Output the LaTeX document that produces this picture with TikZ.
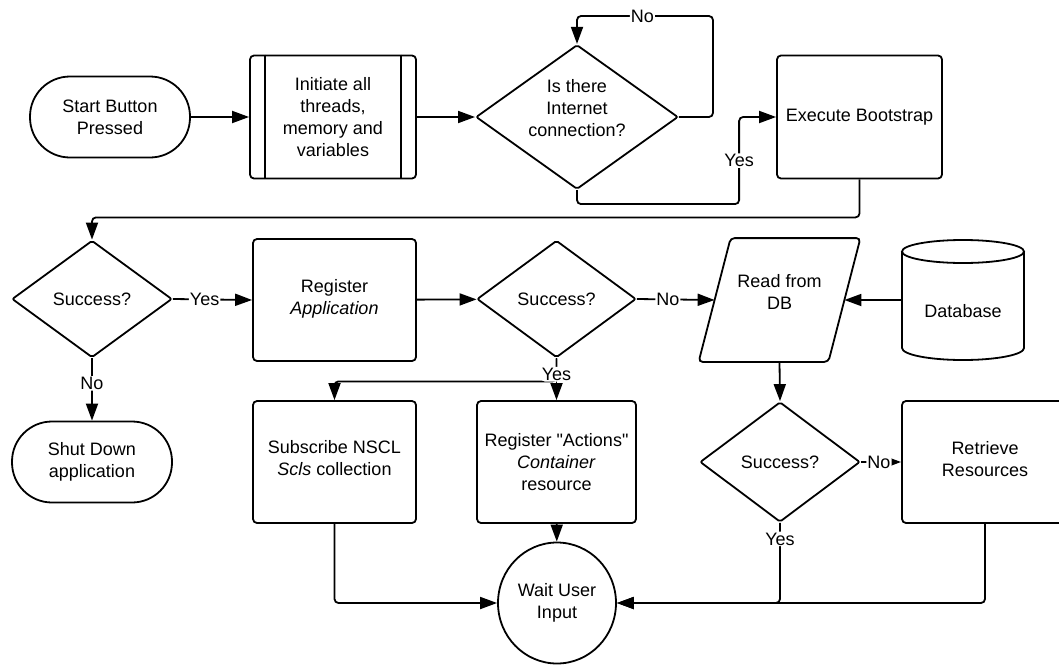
\documentclass[tikz,border=0pt]{standalone}
\usepackage{fontspec}
\newfontfamily\lsans{Liberation Sans}
\usetikzlibrary{arrows.meta,shapes.geometric}

\begin{document}
\begin{tikzpicture}[x=1pt,y=-1pt,line width=1.8pt,
	>={Triangle[length=17pt,width=12pt]},
	font=\lsans\fontsize{18}{22}\selectfont,
	box/.style={draw,rounded corners=4pt,minimum width=163pt,minimum height=122pt,align=center,inner sep=0pt},
	term/.style={draw,rounded corners=40pt,minimum width=160pt,minimum height=81pt,align=center},
	dec/.style={draw,diamond,aspect=1.4,inner sep=0pt,align=center,rounded corners=2pt},
	lbl/.style={fill=white,inner sep=1pt},
	conn/.style={->,rounded corners=4pt}]
		\useasboundingbox (0,0) rectangle (1059,664);
		% first row
		\node[term] (start) at (110,117) {Start Button\\Pressed};
		\node[box,minimum width=166pt,minimum height=123pt] (init) at (333,117) {Initiate all\\threads,\\memory and\\variables};
		\node[dec,minimum width=199pt,minimum height=138pt] (inet) at (577,117) {Is there\\Internet\\connection?\\[-4pt]};
		\node[box,minimum width=165pt,minimum height=123pt] (boot) at (859.5,117) {Execute Bootstrap};
		\draw ([xshift=16pt]init.north west) -- ([xshift=16pt]init.south west);
		\draw ([xshift=-16pt]init.north east) -- ([xshift=-16pt]init.south east);
		% second row
		\node[dec,minimum width=160pt,minimum height=117pt] (ok1) at (92,299) {Success?};
		\node[box] (regapp) at (334.5,300) {Register\\\textit{Application}\\[-16pt]};
		\node[dec,minimum width=159pt,minimum height=117pt] (ok2) at (556.5,299) {Success?};
		\node[minimum width=128pt,minimum height=122pt,inner sep=0pt,align=center] (readdb) at (779.5,300) {Read from\\DB\\[-6pt]};
		\draw[rounded corners=4pt] ([xshift=16pt]readdb.north west) -- ([xshift=16pt]readdb.north east)
			-- ([xshift=-16pt]readdb.south east) -- ([xshift=-16pt]readdb.south west) -- cycle;
		\node[minimum width=122pt,inner sep=0pt] (db) at (963,311) {Database};
		\draw (963,251.5) ellipse[x radius=61,y radius=11.5];
		\draw (902,251.5) -- (902,348) arc[start angle=180,end angle=0,x radius=61,y radius=12] -- (1024,251.5);
		% third row
		\node[term] (shut) at (92,462) {Shut Down\\application};
		\node[box] (subscr) at (334.5,462) {Subscribe NSCL\\\textit{Scls} collection\\[-14pt]};
		\node[box,minimum width=159pt] (regact) at (556.5,462) {Register "Actions"\\\textit{Container}\\resource};
		\node[dec,minimum width=160pt,minimum height=120pt] (ok3) at (780,462) {Success?};
		\node[box,minimum width=166pt] (retr) at (985,462) {Retrieve\\Resources\\[-16pt]};
		\node[draw,ellipse,minimum width=118pt,minimum height=121pt,align=center,inner sep=0pt] (wait) at (557,603) {Wait User\\Input};
		% connectors
		\path[conn] (start) edge (init);
		\path[conn] (init) edge (inet);
		\draw[conn] (inet.east) -- ++(34,0) -- ++(0,-101) -| node[lbl,pos=0.26] {No} (inet.north);
		\draw[conn] (inet.south) -- ++(0,14) -| node[lbl,pos=0.75] {Yes} ([xshift=-37pt]boot.west) -- (boot.west);
		\draw[conn] (boot.south) -- ++(0,38) -| (ok1.north);
		\path[conn] (ok1.east) edge node[lbl,pos=0.4] {Yes} (regapp.west);
		\path[conn] (ok1.south) edge node[lbl,pos=0.4] {No} (shut.north);
		\path[conn] (regapp) edge (ok2);
		\path[conn] (ok2.east) edge node[lbl,pos=0.4] {No} (readdb.west);
		\draw[conn] (db.west |- readdb.east) -- (readdb.east);
		\draw[conn] (ok2.south) -- ++(0,23) -| (subscr.north);
		\draw[conn] (ok2.south) -- node[lbl,pos=0.38] {Yes} (regact.north);
		\path[conn] (readdb.south) edge (ok3.north);
		\path[conn] (ok3.east) edge node[lbl,pos=0.45] {No} (retr.west);
		\path[conn] (regact) edge (wait);
		\draw[conn] (subscr.south) |- (wait.west);
		\draw[conn] (ok3.south) |- node[lbl,pos=0.1] {Yes} (wait.east);
		\draw[conn] (retr.south) |- (wait.east);
	\end{tikzpicture}
\end{document}
